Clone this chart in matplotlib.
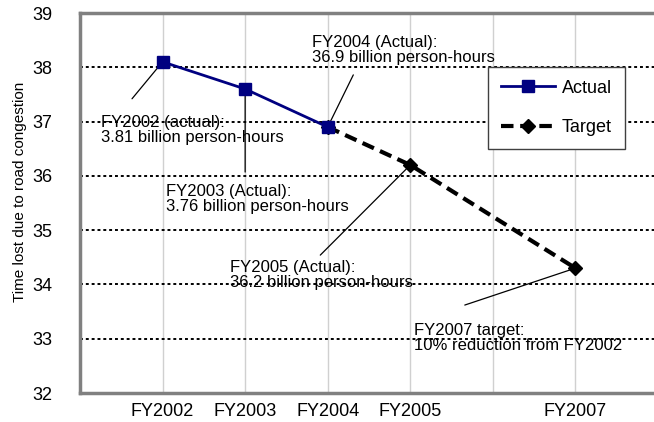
import matplotlib
matplotlib.use("Agg")
import matplotlib.pyplot as plt

plt.rcParams["font.family"] = ["Liberation Sans", "DejaVu Sans"]

# Zeitverlust durch Stau (100 Mio. Personenstunden)
actual_years = [2002, 2003, 2004]
actual_values = [38.1, 37.6, 36.9]
target_years = [2004, 2005, 2007]
target_values = [36.9, 36.2, 34.3]

tick_years = [2002, 2003, 2004, 2005, 2007]
tick_labels = ["FY2002", "FY2003", "FY2004", "FY2005", "FY2007"]

# (Text, Punkt, Linienanfang, Textposition)
notes = [
    ("FY2002 (actual):\n3.81 billion person-hours", (2002, 38.1), (2001.63, 37.42), (2001.25, 36.84)),
    ("FY2003 (Actual):\n3.76 billion person-hours", (2003, 37.6), (2003.0, 36.07), (2002.04, 35.57)),
    ("FY2004 (Actual):\n36.9 billion person-hours", (2004, 36.9), (2004.31, 37.86), (2003.81, 38.32)),
    ("FY2005 (Actual):\n36.2 billion person-hours", (2005, 36.2), (2003.91, 34.54), (2002.82, 34.17)),
    ("FY2007 target:\n10% reduction from FY2002", (2007, 34.3), (2005.66, 33.62), (2005.04, 33.01)),
]

fig = plt.figure(figsize=(6.54, 4.22), dpi=100)
ax = fig.add_axes([80 / 654, 29 / 422, 578 / 654, 380 / 422])

ax.set_xlim(2001, 2008)
ax.set_ylim(32, 39)

# Gitter
for yr in range(2002, 2008):
    ax.axvline(yr, color="#d0d0d0", lw=1, zorder=0)
for v in range(33, 39):
    ax.axhline(v, color="black", lw=1.4, linestyle=(0, (1.5, 1.5)), zorder=1)

ax.plot(actual_years, actual_values, color="#000080", lw=2, marker="s",
        markersize=8, label="Actual", zorder=4)
ax.plot(target_years, target_values, color="black", lw=3, linestyle=(0, (3, 1.6)),
        marker="D", markersize=7, label="Target", zorder=3)

for text, pt, start, pos in notes:
    ax.annotate("", xy=pt, xytext=start,
                arrowprops=dict(arrowstyle="-", color="black", lw=0.9,
                                shrinkA=0, shrinkB=0), zorder=2)
    ax.text(pos[0], pos[1], text, ha="left", va="center", fontsize=12,
            linespacing=1.0, zorder=5)

ax.set_xticks(tick_years)
ax.set_xticklabels(tick_labels)
ax.set_yticks(range(32, 40))
ax.tick_params(axis="x", length=0, pad=7, labelsize=13)
ax.tick_params(axis="y", length=0, pad=20, labelsize=13)

ax.set_ylabel("Time lost due to road congestion", fontsize=11)
ax.yaxis.set_label_coords(-0.092, 0.53)

for side in ["left", "bottom", "top"]:
    ax.spines[side].set_color("#808080")
    ax.spines[side].set_linewidth(2.5)
ax.spines["right"].set_visible(False)

leg = ax.legend(loc="upper left", bbox_to_anchor=(0.706, 0.858), borderaxespad=0,
                fontsize=13, fancybox=False, framealpha=1, edgecolor="#404040",
                labelspacing=1.25, handlelength=3.0, handletextpad=0.4,
                borderpad=0.7)
leg.get_frame().set_linewidth(1)

plt.savefig("out.png", dpi=100)
plt.close()
